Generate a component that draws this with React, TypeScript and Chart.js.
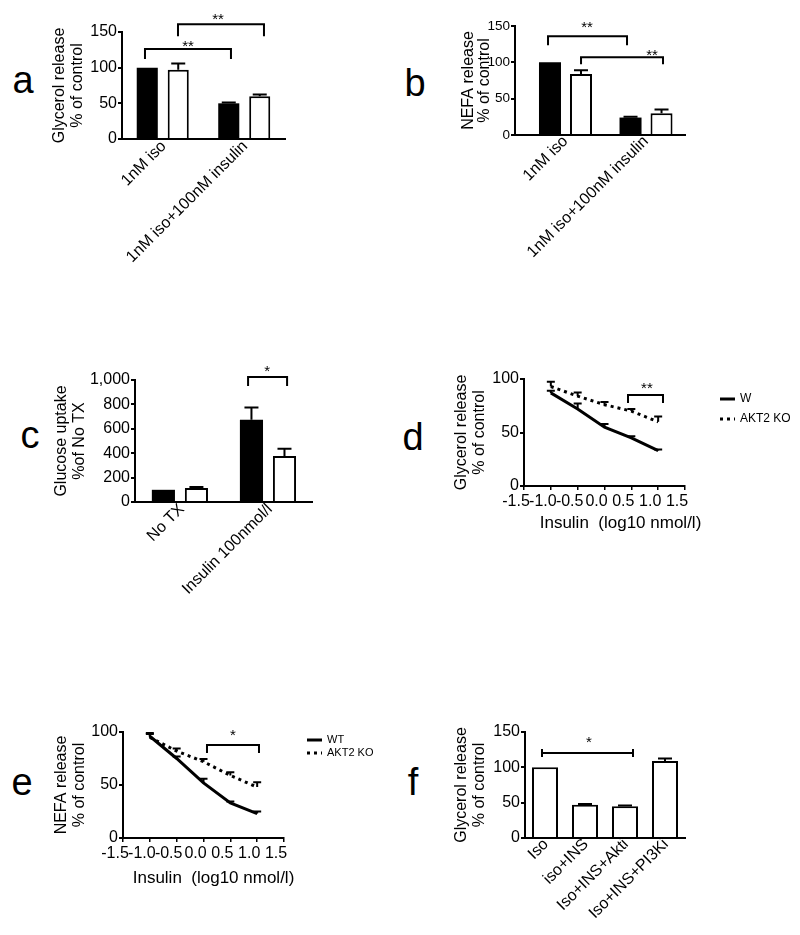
import React, { useEffect, useRef } from 'react';
import { Chart, registerables } from 'chart.js';

Chart.register(...registerables);

const FONT = '"Liberation Sans", Arial, Helvetica, sans-serif';
Chart.defaults.font.family = FONT;
Chart.defaults.color = '#000';

// ---------- Panel a: glycerol release ----------
const A_CATS = ['1nM iso', '1nM iso+100nM insulin'];
const A_WT = [100, 50];
const A_WT_ERR = [0, 1];
const A_KO = [97, 60];
const A_KO_ERR = [9, 2.5];

// ---------- Panel b: NEFA release ----------
const B_CATS = ['1nM iso', '1nM iso+100nM insulin'];
const B_WT = [100, 24];
const B_WT_ERR = [0, 1];
const B_KO = [84, 30];
const B_KO_ERR = [5, 5];

// ---------- Panel c: glucose uptake ----------
const C_CATS = ['No TX', 'Insulin 100nmol/l'];
const C_WT = [100, 675];
const C_WT_ERR = [0, 100];
const C_KO = [115, 377];
const C_KO_ERR = [8, 60];

// ---------- Panels d, e: dose response ----------
const DOSES = [-1, -0.5, 0, 0.5, 1];
const DOSE_TICKS = [-1.5, -1, -0.5, 0, 0.5, 1, 1.5];
const DOSE_TITLE = 'Insulin  (log10 nmol/l)';
const D_WT = [87, 72, 55, 45, 33];
const D_WT_ERR = [2, 5, 3, 1.5, 1];
const D_KO = [93, 84, 76, 70, 60];
const D_KO_ERR = [4.5, 3.5, 2.5, 2, 5];
const E_WT = [96, 75, 52, 33, 23];
const E_WT_ERR = [2, 2, 4, 1.5, 2];
const E_KO = [95, 82, 72, 59, 48];
const E_KO_ERR = [4, 2.5, 2.5, 3, 4.5];

// ---------- Panel f ----------
const F_CATS = ['Iso', 'iso+INS', 'Iso+INS+Akti', 'Iso+INS+PI3Ki'];
const F_VAL = [100, 47, 45, 109];
const F_ERR = [0, 1, 1, 3.5];

// ---------- significance brackets (data units) ----------
type Bracket = { x1: number; x2: number; y: number; drop?: number; kind?: 'h'; label: string; lx: number; ly: number };
const A_BRACKETS: Bracket[] = [
  { x1: -0.218, x2: 0.837, y: 126, drop: 14, label: '**', lx: 0.31, ly: 134.6 },
  { x1: 0.187, x2: 1.242, y: 161, drop: 17, label: '**', lx: 0.678, ly: 172.4 },
];
const B_BRACKETS: Bracket[] = [
  { x1: -0.217, x2: 0.764, y: 136, drop: 12.4, label: '**', lx: 0.267, ly: 152.7 },
  { x1: 0.193, x2: 1.211, y: 107, drop: 9.6, label: '**', lx: 1.075, ly: 114.2 },
];
const C_BRACKETS: Bracket[] = [
  { x1: 0.774, x2: 1.217, y: 1024, drop: 74, label: '*', lx: 0.99, ly: 1098 },
];
const D_BRACKETS: Bracket[] = [
  { x1: 0.438, x2: 1.09, y: 85, drop: 7.5, label: '**', lx: 0.79, ly: 94.4 },
];
const E_BRACKETS: Bracket[] = [
  { x1: 0.065, x2: 1.034, y: 87.7, drop: 7.5, label: '*', lx: 0.55, ly: 100 },
];
const F_BRACKETS: Bracket[] = [
  { x1: -0.075, x2: 2.2, y: 120.3, kind: 'h', label: '*', lx: 1.1, ly: 140 },
];

// ---------- plugins ----------
const errorBarPlugin = {
  id: 'errorBars',
  afterDatasetsDraw(chart: any) {
    const ctx = chart.ctx;
    chart.data.datasets.forEach((ds: any, di: number) => {
      const errs = ds.errors;
      if (!errs) return;
      const meta = chart.getDatasetMeta(di);
      const yS = chart.scales[meta.yAxisID];
      meta.data.forEach((el: any, i: number) => {
        const e = errs[i];
        if (!e) return;
        const v = ds.data[i];
        const val = typeof v === 'object' ? v.y : v;
        const x = el.x;
        const y0 = yS.getPixelForValue(val);
        const y1 = yS.getPixelForValue(val + e);
        const cap = ds.capWidth ?? 10;
        ctx.save();
        ctx.strokeStyle = '#000';
        ctx.lineWidth = 2;
        ctx.setLineDash([]);
        ctx.beginPath();
        ctx.moveTo(x, y0);
        ctx.lineTo(x, y1);
        ctx.moveTo(x - cap / 2, y1);
        ctx.lineTo(x + cap / 2, y1);
        ctx.stroke();
        ctx.restore();
      });
    });
  },
};

function bracketPlugin(items: Bracket[]) {
  return {
    id: 'brackets',
    afterDraw(chart: any) {
      const { ctx } = chart;
      const xs = chart.scales.x;
      const ys = chart.scales.y;
      ctx.save();
      ctx.strokeStyle = '#000';
      ctx.fillStyle = '#000';
      ctx.lineWidth = 2;
      items.forEach((b) => {
        const x1 = xs.getPixelForValue(b.x1);
        const x2 = xs.getPixelForValue(b.x2);
        const yy = ys.getPixelForValue(b.y);
        ctx.beginPath();
        if (b.kind === 'h') {
          const c = 4;
          ctx.moveTo(x1, yy - c);
          ctx.lineTo(x1, yy + c);
          ctx.moveTo(x1, yy);
          ctx.lineTo(x2, yy);
          ctx.moveTo(x2, yy - c);
          ctx.lineTo(x2, yy + c);
        } else {
          const yd = ys.getPixelForValue(b.y - (b.drop || 0));
          ctx.moveTo(x1, yd);
          ctx.lineTo(x1, yy);
          ctx.lineTo(x2, yy);
          ctx.lineTo(x2, yd);
        }
        ctx.stroke();
        ctx.font = `15px ${FONT}`;
        ctx.textAlign = 'center';
        ctx.textBaseline = 'middle';
        ctx.fillText(b.label, xs.getPixelForValue(b.lx), ys.getPixelForValue(b.ly) + 4);
      });
      ctx.restore();
    },
  };
}

function sideLegendPlugin(x: number, y0: number, dy: number, size: number) {
  return {
    id: 'sideLegend',
    afterDraw(chart: any) {
      const ctx = chart.ctx;
      chart.data.datasets.forEach((ds: any, i: number) => {
        const y = y0 + i * dy;
        ctx.save();
        ctx.strokeStyle = '#000';
        ctx.lineWidth = ds.borderWidth;
        ctx.setLineDash(ds.borderDash || []);
        ctx.beginPath();
        ctx.moveTo(x, y);
        ctx.lineTo(x + 15, y);
        ctx.stroke();
        ctx.setLineDash([]);
        ctx.fillStyle = '#000';
        ctx.font = `${size}px ${FONT}`;
        ctx.textBaseline = 'middle';
        ctx.textAlign = 'left';
        ctx.fillText(ds.label, x + 20, y);
        ctx.restore();
      });
    },
  };
}

// x-axis title drawn a little right of the axis centre, as in the original figure
function xTitlePlugin(text: string, dx: number, y: number) {
  return {
    id: 'xTitle',
    afterDraw(chart: any) {
      const { ctx, chartArea } = chart;
      ctx.save();
      ctx.fillStyle = '#000';
      ctx.font = `17px ${FONT}`;
      ctx.textAlign = 'center';
      ctx.textBaseline = 'middle';
      ctx.fillText(text, (chartArea.left + chartArea.right) / 2 + dx, y);
      ctx.restore();
    },
  };
}

// ---------- scale builders ----------
function yScale(
  max: number,
  step: number,
  title: string[],
  width: number,
  titlePad: number,
  fmt?: (v: number) => string,
  tickSize = 16,
  titleLH = 1.125
) {
  return {
    type: 'linear',
    min: 0,
    max,
    ticks: {
      stepSize: step,
      font: { family: FONT, size: tickSize },
      color: '#000',
      padding: 1,
      callback: fmt ? (v: any) => fmt(Number(v)) : (v: any) => String(v),
    },
    grid: { drawOnChartArea: false, drawTicks: true, tickLength: 4, color: '#000', lineWidth: 2 },
    border: { display: true, color: '#000', width: 2 },
    title: {
      display: true,
      text: title,
      color: '#000',
      font: { family: FONT, size: 16, lineHeight: titleLH },
      padding: { top: titlePad, bottom: 0 },
    },
    afterFit: (s: any) => {
      s.width = width;
    },
  };
}

function xCatScale(cats: string[], min: number, max: number, height: number, labelOffset: number, pad: number) {
  return {
    type: 'linear',
    min,
    max,
    offset: false,
    afterBuildTicks: (s: any) => {
      s.ticks = cats.map((_, i) => ({ value: i }));
    },
    ticks: {
      autoSkip: false,
      minRotation: 45,
      maxRotation: 45,
      font: { family: FONT, size: 16 },
      color: '#000',
      padding: pad,
      labelOffset,
      callback: (v: any) => cats[Number(v)],
    },
    grid: { display: false, drawTicks: false },
    border: { display: true, color: '#000', width: 2 },
    afterFit: (s: any) => {
      s.height = height;
    },
  };
}

function xDoseScale(height: number, pad: number) {
  return {
    type: 'linear',
    min: -1.5,
    max: 1.5,
    afterBuildTicks: (s: any) => {
      s.ticks = DOSE_TICKS.map((v) => ({ value: v }));
    },
    ticks: {
      autoSkip: false,
      maxRotation: 0,
      minRotation: 0,
      font: { family: FONT, size: 16 },
      color: '#000',
      padding: pad,
      labelOffset: -8,
      callback: (v: any) => Number(v).toFixed(1),
    },
    grid: { drawOnChartArea: false, drawTicks: true, tickLength: 4, color: '#000', lineWidth: 1.5 },
    border: { display: true, color: '#000', width: 2 },
    afterFit: (s: any) => {
      s.height = height;
    },
  };
}

const toXY = (vals: number[], xs?: number[]) => vals.map((v, i) => ({ x: xs ? xs[i] : i, y: v }));

function wtBar(vals: number[], errs: number[], catPct: number, barPct: number) {
  return {
    label: 'WT',
    data: toXY(vals),
    errors: errs,
    capWidth: 14,
    backgroundColor: '#000',
    borderColor: '#000',
    borderWidth: 0,
    categoryPercentage: catPct,
    barPercentage: barPct,
  };
}
function koBar(vals: number[], errs: number[], catPct: number, barPct: number, label = 'AKT2 KO') {
  return {
    label,
    data: toXY(vals),
    errors: errs,
    capWidth: 14,
    backgroundColor: '#fff',
    borderColor: '#000',
    borderWidth: 2,
    categoryPercentage: catPct,
    barPercentage: barPct,
  };
}

function lineSet(label: string, vals: number[], errs: number[], dashed: boolean) {
  return {
    label,
    data: toXY(vals, DOSES),
    errors: errs,
    capWidth: 8,
    borderColor: '#000',
    backgroundColor: '#000',
    borderWidth: 3,
    borderDash: dashed ? [3, 4] : [],
    pointRadius: 0,
    fill: false,
    tension: 0,
  };
}

const baseOptions = (padding: any) => ({
  responsive: false,
  animation: false,
  devicePixelRatio: 1,
  layout: { padding },
  plugins: { legend: { display: false }, tooltip: { enabled: false } },
});

// ---------- configs ----------
const configA = () => ({
  type: 'bar',
  data: { datasets: [wtBar(A_WT, A_WT_ERR, 0.76, 0.68), koBar(A_KO, A_KO_ERR, 0.76, 0.68)] },
  options: {
    ...baseOptions({ left: 0, top: 32, right: 15, bottom: 0 }),
    scales: {
      x: xCatScale(A_CATS, -0.5, 1.5, 131, 1, -2),
      y: yScale(150, 50, ['Glycerol release', '% of control'], 92, 21),
    },
  },
  plugins: [errorBarPlugin, bracketPlugin(A_BRACKETS)],
});

const configB = () => ({
  type: 'bar',
  data: { datasets: [wtBar(B_WT, B_WT_ERR, 0.77, 0.71), koBar(B_KO, B_KO_ERR, 0.77, 0.71)] },
  options: {
    ...baseOptions({ left: 0, top: 26, right: 15, bottom: 0 }),
    scales: {
      x: xCatScale(B_CATS, -0.627, 1.484, 135, 0, -3),
      y: yScale(150, 50, ['NEFA release', '% of control'], 95, 41, undefined, 13.5, 1.0),
    },
  },
  plugins: [errorBarPlugin, bracketPlugin(B_BRACKETS)],
});

const configC = () => ({
  type: 'bar',
  data: { datasets: [wtBar(C_WT, C_WT_ERR, 0.75, 0.7), koBar(C_KO, C_KO_ERR, 0.75, 0.7)] },
  options: {
    ...baseOptions({ left: 0, top: 30, right: 28, bottom: 0 }),
    scales: {
      x: xCatScale(C_CATS, -0.51, 1.5, 118, 2, -2),
      y: yScale(1000, 200, ['Glucose uptake', '%of No TX'], 115, 33, (v) => v.toLocaleString('en-US')),
    },
  },
  plugins: [errorBarPlugin, bracketPlugin(C_BRACKETS)],
});

const configD = () => ({
  type: 'line',
  data: { datasets: [lineSet('W', D_WT, D_WT_ERR, false), lineSet('AKT2 KO', D_KO, D_KO_ERR, true)] },
  options: {
    ...baseOptions({ left: 0, top: 29, right: 115, bottom: 0 }),
    scales: {
      x: xDoseScale(64, 2),
      y: yScale(100, 50, ['Glycerol release', '% of control'], 94, 23),
    },
  },
  plugins: [
    errorBarPlugin,
    bracketPlugin(D_BRACKETS),
    sideLegendPlugin(290, 49, 20, 12),
    xTitlePlugin(DOSE_TITLE, 16, 173),
  ],
});

const configE = () => ({
  type: 'line',
  data: { datasets: [lineSet('WT', E_WT, E_WT_ERR, false), lineSet('AKT2 KO', E_KO, E_KO_ERR, true)] },
  options: {
    ...baseOptions({ left: 0, top: 42, right: 116, bottom: 0 }),
    scales: {
      x: xDoseScale(72, 1.5),
      y: yScale(100, 50, ['NEFA release', '% of control'], 93, 23),
    },
  },
  plugins: [
    errorBarPlugin,
    bracketPlugin(E_BRACKETS),
    sideLegendPlugin(277, 50, 13, 11),
    xTitlePlugin(DOSE_TITLE, 10, 188),
  ],
});

const configF = () => ({
  type: 'bar',
  data: {
    datasets: [
      {
        label: 'Glycerol release',
        data: toXY(F_VAL),
        errors: F_ERR,
        capWidth: 14,
        backgroundColor: '#fff',
        borderColor: '#000',
        borderWidth: 2,
        categoryPercentage: 1,
        barPercentage: 0.65,
      },
    ],
  },
  options: {
    ...baseOptions({ left: 0, top: 42, right: 25, bottom: 0 }),
    scales: {
      x: xCatScale(F_CATS, -0.5, 3.5, 97, 1, -3),
      y: yScale(150, 50, ['Glycerol release', '% of control'], 95, 23),
    },
  },
  plugins: [errorBarPlugin, bracketPlugin(F_BRACKETS)],
});

// ---------- components ----------
function ChartCanvas(props: { left: number; top: number; width: number; height: number; config: () => any }) {
  const ref = useRef<HTMLCanvasElement | null>(null);
  useEffect(() => {
    if (!ref.current) return;
    const chart = new Chart(ref.current, props.config());
    return () => chart.destroy();
  }, []);
  return (
    <canvas
      ref={ref}
      width={props.width}
      height={props.height}
      style={{ position: 'absolute', left: props.left, top: props.top, width: props.width, height: props.height }}
    />
  );
}

function Letter(props: { ch: string; x: number; top: number }) {
  return (
    <div
      style={{
        position: 'absolute',
        left: props.x,
        top: props.top,
        transform: 'translateX(-50%)',
        fontFamily: FONT,
        fontSize: 38,
        lineHeight: '38px',
        color: '#000',
      }}
    >
      {props.ch}
    </div>
  );
}

export default function App() {
  return (
    <div style={{ position: 'absolute', left: 0, top: 0, width: 800, height: 935, background: '#fff', overflow: 'hidden' }}>
      <Letter ch="a" x={23} top={61} />
      <Letter ch="b" x={415} top={64} />
      <Letter ch="c" x={30} top={416} />
      <Letter ch="d" x={413} top={418} />
      <Letter ch="e" x={22} top={763} />
      <Letter ch="f" x={413} top={763} />
      <ChartCanvas left={30} top={0} width={270} height={270} config={configA} />
      <ChartCanvas left={420} top={0} width={280} height={270} config={configB} />
      <ChartCanvas left={20} top={350} width={320} height={270} config={configC} />
      <ChartCanvas left={430} top={350} width={370} height={200} config={configD} />
      <ChartCanvas left={30} top={690} width={370} height={220} config={configE} />
      <ChartCanvas left={430} top={690} width={280} height={245} config={configF} />
    </div>
  );
}
